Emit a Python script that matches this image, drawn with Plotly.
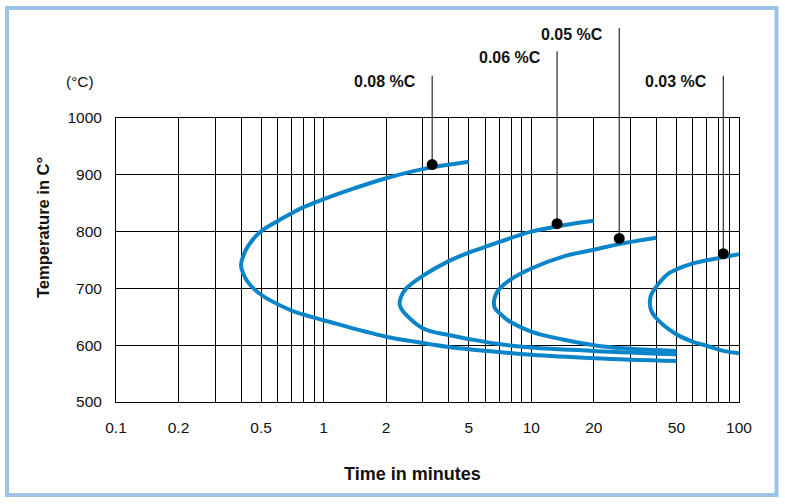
import numpy as np
import plotly.graph_objects as go

## Curvas C (tempo em minutos, temperatura em C)
labels = ["0.08 %C", "0.06 %C", "0.05 %C", "0.03 %C"]

t_008 = [5.0, 3.0, 2.0, 1.4, 1.0, 0.8, 0.69, 0.59, 0.49, 0.43, 0.41, 0.40, 0.41, 0.43, 0.49, 0.69, 0.8, 1.0, 2.0, 3.0, 4.0, 5.0, 7.0, 10, 20, 50]
T_008 = [923, 910, 894, 876, 857, 843, 831, 817, 798, 773, 757, 741, 726, 712, 691, 662, 654, 644, 615, 604, 597, 593, 588, 583, 577, 572]

t_006 = [20, 13.2, 10, 9.0, 6.9, 6.0, 5.0, 4.0, 3.0, 2.5, 2.37, 2.32, 2.36, 2.46, 3.0, 4.0, 5.0, 7.0, 10, 20, 50]
T_006 = [819, 809, 800, 795, 781, 773, 763, 748, 722, 700, 687, 674, 665, 656, 630, 618, 611, 602, 596, 590, 584]

t_005 = [40, 26.5, 20, 14.2, 10, 7.9, 7.06, 6.72, 6.6, 6.7, 7.06, 7.7, 10, 14.2, 20, 29, 50]
T_005 = [789, 778, 768, 756, 735, 715, 700, 688, 674, 664, 656, 644, 624, 610, 600, 594, 590]

t_003 = [100, 84, 60, 49, 45, 39.4, 37.7, 37.2, 37.7, 39.4, 49, 60, 70, 84, 100]
T_003 = [760, 755, 744, 732, 724, 700, 688, 675, 662, 650, 621, 606, 599, 590, 586]

## Pontos marcados e altura das etiquetas (em C, acima do eixo)
dot_t = [3.33, 13.3, 26.5, 84]
dot_T = [918, 814, 788, 761]
label_T = [1077, 1120, 1161, 1077]

## Eixo x
x_grid = [0.1, 0.2, 0.3, 0.4, 0.5, 0.6, 0.7, 0.8, 0.9,
          1, 2, 3, 4, 5, 6, 7, 8, 9,
          10, 20, 30, 40, 50, 60, 70, 80, 90, 100]
x_labels = {0.1: "0.1", 0.2: "0.2", 0.5: "0.5", 1: "1", 2: "2", 5: "5",
            10: "10", 20: "20", 50: "50", 100: "100"}
y_ticks = [500, 600, 700, 800, 900, 1000]
y_min, y_max = 500, 1000

W, H = 785, 504
ML, MR, MT, MB = 116, 46, 118, 102
FONT = "Liberation Sans, Arial, sans-serif"
BLUE = "#0a85c9"


def px(x):
    return (x - ML) / (W - ML - MR)


def py(y):
    return (H - MB - y) / (H - MT - MB)


fig = go.Figure()
for t, T in [(t_008, T_008), (t_006, T_006), (t_005, T_005), (t_003, T_003)]:
    fig.add_trace(go.Scatter(x=t, y=T, mode="lines",
                             line=dict(color=BLUE, width=4, shape="spline", smoothing=1.2),
                             hoverinfo="skip"))

fig.add_trace(go.Scatter(x=dot_t, y=dot_T, mode="markers",
                         marker=dict(color="black", size=11), hoverinfo="skip"))

ann = []
for lab, t, T, Ttop in zip(labels, dot_t, dot_T, label_T):
    # linha vertical do ponto ate a etiqueta
    ann.append(dict(x=np.log10(t), y=T, ax=np.log10(t), ay=Ttop, xref="x", yref="y",
                    axref="x", ayref="y", text="", showarrow=True, arrowhead=0,
                    arrowwidth=1, arrowcolor="black", standoff=0, startstandoff=0))
    ann.append(dict(x=np.log10(t), y=(Ttop - y_min) / (y_max - y_min), xref="x", yref="paper",
                    text="<b>%s</b>" % lab, showarrow=False, xanchor="right", yanchor="middle",
                    xshift=-14, yshift=-7.5, font=dict(size=16, color="#111", family=FONT)))

ann.append(dict(x=px(80), y=py(82), xref="paper", yref="paper", text="(°C)", showarrow=False,
                xanchor="center", yanchor="middle", font=dict(size=15.5, color="#111", family=FONT)))
ann.append(dict(x=px(43), y=py(228), xref="paper", yref="paper", text="<b>Temperature in C°</b>",
                textangle=-90, showarrow=False, xanchor="center", yanchor="middle",
                font=dict(size=16.5, color="#111", family=FONT)))
ann.append(dict(x=px(412), y=py(474), xref="paper", yref="paper", text="<b>Time in minutes</b>",
                showarrow=False, xanchor="center", yanchor="middle",
                font=dict(size=18, color="#111", family=FONT)))

fig.update_layout(
    width=W, height=H,
    margin=dict(l=ML, r=MR, t=MT, b=MB),
    paper_bgcolor="white", plot_bgcolor="white",
    showlegend=False,
    font=dict(family=FONT, size=15.5, color="#111"),
    annotations=ann,
    shapes=[dict(type="rect", xref="paper", yref="paper",
                 x0=px(7), x1=px(776.5), y0=py(495), y1=py(8),
                 line=dict(color="#9dc3e6", width=4), layer="below")],
)
fig.update_xaxes(type="log", range=[-1, 2],
                 tickvals=x_grid, ticktext=[x_labels.get(v, "") for v in x_grid],
                 showgrid=True, gridcolor="black", gridwidth=1,
                 showline=True, linecolor="black", linewidth=1, mirror=True,
                 ticks="", ticklabelstandoff=11)
fig.update_yaxes(range=[y_min, y_max], tickvals=y_ticks,
                 showgrid=True, gridcolor="black", gridwidth=1,
                 showline=True, linecolor="black", linewidth=1, mirror=True,
                 ticks="", ticklabelstandoff=10, zeroline=False)

fig.write_html("out.html", config={"displayModeBar": False},
               post_script="document.body.style.margin='0px';")
